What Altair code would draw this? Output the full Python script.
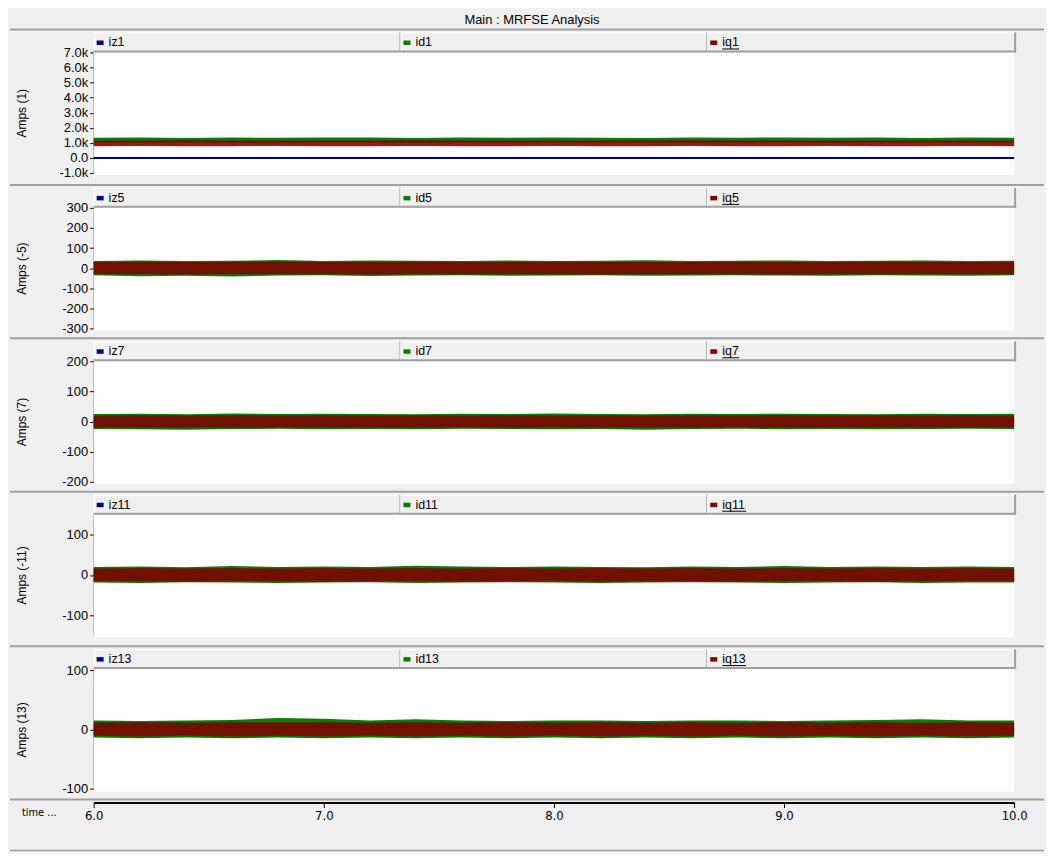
import altair as alt
import pandas as pd

# ---------------- data ----------------
TITLE = "Main : MRFSE Analysis"
time_s = [6.0, 6.2, 6.4, 6.6, 6.8, 7.0, 7.2, 7.4, 7.6, 7.8, 8.0,
          8.2, 8.4, 8.6, 8.8, 9.0, 9.2, 9.4, 9.6, 9.8, 10.0]

harmonics = ["1", "-5", "7", "-11", "13"]
iz_names = ["iz1", "iz5", "iz7", "iz11", "iz13"]
id_names = ["id1", "id5", "id7", "id11", "id13"]
iq_names = ["iq1", "iq5", "iq7", "iq11", "iq13"]

# zero-sequence currents (flat at 0)
iz1 = [0, 0, 0, 0, 0, 0, 0, 0, 0, 0, 0, 0, 0, 0, 0, 0, 0, 0, 0, 0, 0]
iz5 = [0, 0, 0, 0, 0, 0, 0, 0, 0, 0, 0, 0, 0, 0, 0, 0, 0, 0, 0, 0, 0]
iz7 = [0, 0, 0, 0, 0, 0, 0, 0, 0, 0, 0, 0, 0, 0, 0, 0, 0, 0, 0, 0, 0]
iz11 = [0, 0, 0, 0, 0, 0, 0, 0, 0, 0, 0, 0, 0, 0, 0, 0, 0, 0, 0, 0, 0]
iz13 = [0, 0, 0, 0, 0, 0, 0, 0, 0, 0, 0, 0, 0, 0, 0, 0, 0, 0, 0, 0, 0]

# ripple envelopes (upper / lower) of the d and q currents
id1_hi = [1340, 1360, 1330, 1350, 1340, 1360, 1350, 1330, 1350, 1340, 1360,
          1340, 1330, 1350, 1340, 1360, 1340, 1350, 1330, 1350, 1340]
id1_lo = [1020, 1010, 1030, 1020, 1010, 1020, 1030, 1010, 1020, 1020, 1010,
          1030, 1020, 1010, 1020, 1030, 1010, 1020, 1020, 1010, 1020]
iq1_hi = [1160, 1150, 1170, 1150, 1160, 1150, 1160, 1170, 1150, 1160, 1150,
          1160, 1150, 1170, 1160, 1150, 1160, 1150, 1160, 1150, 1160]
iq1_lo = [780, 790, 770, 780, 790, 780, 770, 790, 780, 780, 790,
          770, 780, 790, 780, 770, 790, 780, 780, 790, 780]

id5_hi = [36, 38, 35, 37, 40, 36, 38, 37, 35, 38, 36, 37, 39, 36, 37, 38, 36, 37, 38, 36, 37]
id5_lo = [-36, -40, -38, -42, -37, -36, -39, -37, -36, -38, -37, -36, -38, -37, -36, -37, -38, -36, -37, -38, -36]
iq5_hi = [30, 32, 31, 30, 33, 31, 30, 32, 31, 30, 32, 31, 30, 31, 32, 30, 31, 32, 30, 31, 30]
iq5_lo = [-30, -31, -32, -30, -31, -30, -32, -31, -30, -31, -30, -32, -31, -30, -31, -32, -30, -31, -30, -31, -30]

id7_hi = [25, 26, 24, 27, 25, 26, 25, 24, 26, 25, 27, 25, 24, 26, 25, 26, 25, 24, 26, 25, 26]
id7_lo = [-25, -26, -27, -25, -24, -26, -25, -26, -24, -25, -26, -25, -27, -25, -24, -26, -25, -26, -25, -24, -25]
iq7_hi = [20, 21, 20, 21, 20, 21, 20, 21, 20, 21, 20, 21, 20, 21, 20, 21, 20, 21, 20, 21, 20]
iq7_lo = [-20, -21, -20, -21, -20, -21, -20, -21, -20, -21, -20, -21, -20, -21, -20, -21, -20, -21, -20, -21, -20]

id11_hi = [20, 21, 19, 22, 20, 21, 20, 23, 21, 20, 21, 20, 19, 21, 20, 22, 20, 21, 20, 21, 20]
id11_lo = [-19, -20, -18, -19, -20, -19, -18, -20, -19, -18, -19, -20, -19, -18, -19, -20, -19, -18, -20, -19, -19]
iq11_hi = [16, 17, 16, 17, 16, 17, 16, 17, 16, 17, 16, 17, 16, 17, 16, 17, 16, 17, 16, 17, 16]
iq11_lo = [-16, -16, -17, -16, -16, -17, -16, -16, -17, -16, -16, -17, -16, -16, -17, -16, -16, -17, -16, -16, -16]

id13_hi = [15, 14, 15, 16, 19, 18, 15, 17, 15, 14, 15, 15, 14, 15, 15, 14, 15, 16, 17, 15, 15]
id13_lo = [-14, -15, -14, -15, -14, -15, -14, -15, -14, -15, -14, -15, -14, -15, -14, -15, -14, -15, -14, -15, -14]
iq13_hi = [11, 12, 11, 12, 12, 12, 11, 12, 11, 12, 11, 12, 11, 12, 11, 12, 11, 12, 11, 12, 11]
iq13_lo = [-11, -12, -11, -12, -11, -12, -11, -12, -11, -12, -11, -12, -11, -12, -11, -12, -11, -12, -11, -12, -11]

iz_all = [iz1, iz5, iz7, iz11, iz13]
id_hi_all = [id1_hi, id5_hi, id7_hi, id11_hi, id13_hi]
id_lo_all = [id1_lo, id5_lo, id7_lo, id11_lo, id13_lo]
iq_hi_all = [iq1_hi, iq5_hi, iq7_hi, iq11_hi, iq13_hi]
iq_lo_all = [iq1_lo, iq5_lo, iq7_lo, iq11_lo, iq13_lo]

y_domains = [[-1000, 7000], [-300, 300], [-200, 200], [-150, 150], [-102, 102]]
y_ticks = [[-1000, 0, 1000, 2000, 3000, 4000, 5000, 6000, 7000],
           [-300, -200, -100, 0, 100, 200, 300],
           [-200, -100, 0, 100, 200],
           [-100, 0, 100],
           [-100, 0, 100]]
x_ticks = [6, 7, 8, 9, 10]

# ---------------- styling ----------------
W = 924
GRAY = "#f0f0f0"
LINE = "#a0a0a0"
NAVY = "#000080"
GREEN = "#008000"
RED = "#800000"
FONT = "Liberation Sans"
NARROW = "Liberation Sans Narrow, Arial Narrow, DejaVu Sans Condensed, sans-serif"
panel_heights = [156, 154, 154, 155, 154]
one = pd.DataFrame({"k": [0]})
xsc = alt.Scale(domain=[6, 10], nice=False, zero=False)


def hrule(y, x0, x1, color=LINE, width=2):
    return alt.Chart(one).mark_rule(color=color, strokeWidth=width).encode(
        x=alt.value(x0), x2=alt.value(x1), y=alt.value(y))


def vrule(x, y0, y1, color=LINE, width=1):
    return alt.Chart(one).mark_rule(color=color, strokeWidth=width).encode(
        x=alt.value(x), y=alt.value(y0), y2=alt.value(y1))


def rect(x0, x1, y0, y1, fill):
    return alt.Chart(one).mark_rect(fill=fill).encode(
        x=alt.value(x0), x2=alt.value(x1), y=alt.value(y0), y2=alt.value(y1))


def txt(x, y, s, size=12, font=FONT, align="left"):
    return alt.Chart(one).mark_text(font=font, fontSize=size, align=align,
                                    baseline="middle", color="black").encode(
        x=alt.value(x), y=alt.value(y), text=alt.value(s))


def panel(i):
    h = panel_heights[i]
    df = pd.DataFrame({
        "t": time_s, "z": iz_all[i],
        "dlo": id_lo_all[i], "dhi": id_hi_all[i],
        "qlo": iq_lo_all[i], "qhi": iq_hi_all[i],
    })
    if i == 0:
        lab = ("datum.value == 0 ? '0.0' : (datum.value < 0 ? '-' : '') + "
               "format(abs(datum.value) / 1000, '.1f') + 'k'")
    else:
        lab = "(datum.value < 0 ? '-' : '') + format(abs(datum.value), 'd')"
    ysc = alt.Scale(domain=y_domains[i], range=[144, 23], nice=False, zero=False)
    yax = alt.Axis(values=y_ticks[i], labelExpr=lab, title=f"Amps ({harmonics[i]})",
                   titleX=-72, titleY=83.5, titleAngle=-90, titleAlign="center",
                   titleBaseline="middle", grid=False, tickSize=4, tickColor="black",
                   domainColor="black", labelPadding=2, labelFontSize=13,
                   labelFlush=False)
    base = alt.Chart(df).encode(x=alt.X("t:Q", scale=xsc, axis=None))
    layers = [
        rect(0, W, 23, 146, "white"),
        hrule(0, -84, 954),
        # legend header strip
        hrule(3.5, 0, W, color="white", width=1),
        vrule(0.5, 3, 22, color="white", width=1),
        hrule(22, 0, W + 2, color=LINE, width=2),
        vrule(W + 1, 3, 23, color=LINE, width=2),
        vrule(307.5, 3, 21, color=LINE, width=1),
        vrule(308.5, 3, 21, color="white", width=1),
        vrule(615.5, 3, 21, color=LINE, width=1),
        vrule(616.5, 3, 21, color="white", width=1),
    ]
    names = [iz_names[i], id_names[i], iq_names[i]]
    cols = [NAVY, GREEN, RED]
    for k, c0 in enumerate([0, 308, 616]):
        layers.append(rect(c0 + 3, c0 + 10, 11, 15.5, cols[k]))
        layers.append(txt(c0 + 15, 13, names[k], size=12.5))
    uw = 17 if len(iq_names[i]) == 3 else 24
    layers.append(hrule(19.5, 631, 631 + uw, color="black", width=1))
    layers += [
        base.mark_line(color=NAVY, strokeWidth=2).encode(
            y=alt.Y("z:Q", scale=ysc, axis=yax)),
        base.mark_area(color=GREEN).encode(
            y=alt.Y("dlo:Q", scale=ysc, axis=yax), y2="dhi:Q"),
        base.mark_area(color=RED, opacity=0.88).encode(
            y=alt.Y("qlo:Q", scale=ysc, axis=yax), y2="qhi:Q"),
    ]
    return alt.layer(*layers).properties(width=W, height=h)


title_row = alt.layer(
    txt(440, 9.5, TITLE, size=13, align="center"),
).properties(width=W, height=19)

axis_row = alt.layer(
    alt.Chart(pd.DataFrame({"t": [6.0, 10.0]})).mark_point(opacity=0).encode(
        x=alt.X("t:Q", scale=xsc,
                axis=alt.Axis(values=x_ticks, format=".1f", title=None, grid=False,
                              labelFont=NARROW, labelFontSize=13, tickSize=5,
                              tickColor="black", domainColor="black", domainWidth=2,
                              labelPadding=2, labelColor="black", labelFlush=False))),
    hrule(0, -84, 954),
    hrule(51, -84, 954, color=LINE, width=1.5),
    txt(-72, 13, "time ...", size=11, font=NARROW),
).properties(width=W, height=3)

chart = alt.vconcat(
    title_row, *[panel(i) for i in range(5)], axis_row,
    spacing=0, bounds="flush",
).properties(background=GRAY, padding=0).configure_view(
    stroke="transparent"
).configure_axis(
    labelFont=FONT, labelFontSize=12, labelColor="black",
    titleFont=FONT, titleFontSize=12, titleFontWeight="normal", titleColor="black",
)

chart.save("out.html", embed_options={"renderer": "svg", "actions": False})
